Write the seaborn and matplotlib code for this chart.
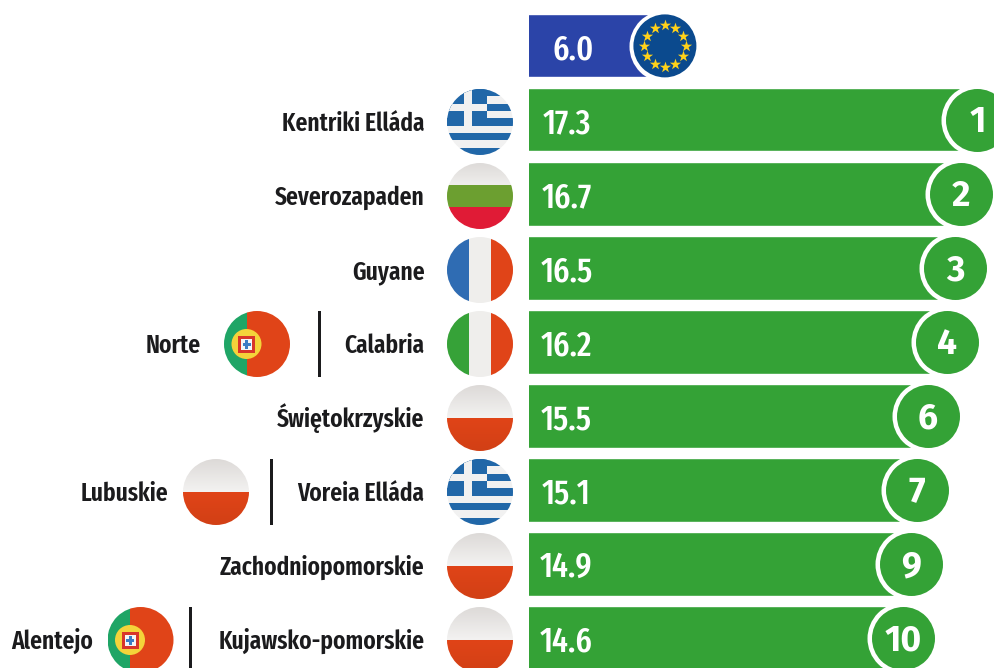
import numpy as np
import pandas as pd
import matplotlib
matplotlib.use("Agg")
import matplotlib.pyplot as plt
import seaborn as sns
from matplotlib.patches import Circle, Rectangle

# ---- data ----
rows = ["EU", "r1", "r2", "r3", "r4", "r6", "r7", "r9", "r10"]
values = [6.0, 17.3, 16.7, 16.5, 16.2, 15.5, 15.1, 14.9, 14.6]
value_labels = ["6.0", "17.3", "16.7", "16.5", "16.2", "15.5", "15.1", "14.9", "14.6"]
ranks = ["", "1", "2", "3", "4", "6", "7", "9", "10"]
regions = ["", "Kentriki Elláda", "Severozapaden", "Guyane", "Calabria",
           "Świętokrzyskie", "Voreia Elláda", "Zachodniopomorskie", "Kujawsko-pomorskie"]
flags = ["", "gr", "bg", "fr", "it", "pl", "gr", "pl", "pl"]
second_regions = {4: ("Norte", "pt", 257, 201, 319.5),
                  6: ("Lubuskie", "pl", 216, 168, 271.5),
                  8: ("Alentejo", "pt", 140.5, 93, 190.5)}

GREEN = "#34A236"
BLUE = "#2B44A8"
INK = "#1b1b1d"
W, H = 995, 668
FONT = ["Fira Sans Extra Condensed", "DejaVu Sans"]
FONT_RANK = ["Fira Sans", "DejaVu Sans"]

sns.set_theme(style="white")
plt.rcParams["font.family"] = FONT

fig = plt.figure(figsize=(W / 100, H / 100), dpi=100, facecolor="white")

# main axes: bars, clipped at the reference's visible start
x0, ppu, step, y0 = 499.0, 27.65, 74.0, 45.9
ax = fig.add_axes([529 / W, 0, (W - 529) / W, 1])
df = pd.DataFrame({"row": rows, "value": values})
sns.barplot(data=df, y="row", x="value", hue="row", palette=[BLUE] + [GREEN] * 8,
            legend=False, width=63.2 / step, ax=ax, saturation=1, orient="h")
ax.set_xlim((529 - x0) / ppu, (W - x0) / ppu)
ax.set_ylim((H - y0) / step, -y0 / step)
ax.axis("off")
ypos = np.arange(len(rows))
pt = 72 / 100
ax.scatter(values, ypos, s=(72 * pt) ** 2, color="white", zorder=3, linewidths=0)
ax.scatter(values[1:], ypos[1:], s=(63 * pt) ** 2, color=GREEN, zorder=4, linewidths=0)
for i, (v, r, lab) in enumerate(zip(values, ranks, value_labels)):
    ax.text(v, i + 12.5 / step, r, color="white", fontsize=25.5, fontweight="bold",
            ha="center", va="baseline", zorder=5, family=FONT_RANK)
    xpx = 573 if i == 0 else 566.5
    ax.text((xpx - x0) / ppu, i + 13.3 / step, lab, color="white", fontsize=25,
            fontweight="medium", ha="center", va="baseline", zorder=5)

# overlay in pixel coordinates for flags, labels, dividers
ov = fig.add_axes([0, 0, 1, 1], facecolor="none")
ov.set_xlim(0, W)
ov.set_ylim(H, 0)
ov.axis("off")
R = 33.0


def grad(x1, x2, y1, y2, c1, c2, clip):
    a = np.array(matplotlib.colors.to_rgb(c1))
    b = np.array(matplotlib.colors.to_rgb(c2))
    t = np.linspace(0, 1, 40)[:, None, None]
    img = a[None, None, :] * (1 - t) + b[None, None, :] * t
    im = ov.imshow(img, extent=(x1, x2, y2, y1), aspect="auto", zorder=2, interpolation="bilinear")
    im.set_clip_path(clip)


def rect(x, y, w, h, c, clip, z=2):
    p = Rectangle((x, y), w, h, fc=c, ec="none", zorder=z)
    ov.add_patch(p)
    p.set_clip_path(clip)


def flag(kind, cx, cy):
    clip = Circle((cx, cy), R, transform=ov.transData, fc="none", ec="none")
    ov.add_patch(clip)
    L, T, S = cx - R, cy - R, 2 * R
    if kind == "gr":
        b = "#2167A8"
        rect(L, T, S, S, "#F1F1F1", clip)
        sh = S / 9
        for k in range(0, 9, 2):
            rect(L, T + k * sh, S, sh, b, clip)
        rect(L, T, 40, 5 * sh, b, clip, 3)
        rect(L + 16.5, T, 8.5, 5 * sh, "#F1F1F1", clip, 4)
        rect(L, T + 2 * sh, 40, sh, "#F1F1F1", clip, 4)
    elif kind == "bg":
        grad(L, L + S, T, T + S / 3, "#DEDBD9", "#EFEEEC", clip)
        rect(L, T + S / 3, S, S / 3, "#6C9F30", clip)
        rect(L, T + 2 * S / 3, S, S / 3, "#E01B36", clip)
    elif kind == "fr":
        rect(L, T, S, S, "#EFEEEC", clip)
        rect(L, T, S / 3, S, "#2F6CB3", clip)
        rect(L + 2 * S / 3, T, S / 3, S, "#E04418", clip)
    elif kind == "it":
        rect(L, T, S, S, "#EFEEEC", clip)
        rect(L, T, S / 3, S, "#36A238", clip)
        rect(L + 2 * S / 3, T, S / 3, S, "#E04418", clip)
    elif kind == "pl":
        grad(L, L + S, T, cy, "#DDDAD8", "#F3F2F1", clip)
        grad(L, L + S, cy, T + S, "#E04418", "#D24015", clip)
    elif kind == "pt":
        split = cx - 10.5
        rect(L, T, split - L, S, "#1FA566", clip)
        rect(split, T, L + S - split, S, "#E04418", clip)
        ov.add_patch(Circle((split, cy), 15, fc="#F4D33A", ec="none", zorder=4))
        ov.add_patch(Rectangle((split - 8.5, cy - 8.5), 17, 17, fc="#D8352A", ec="none", zorder=5))
        ov.add_patch(Rectangle((split - 5.5, cy - 5.5), 11, 11.5, fc="#F5F5F5", ec="none", zorder=6))
        ov.add_patch(Rectangle((split - 1.5, cy - 4), 3, 8.5, fc="#3C7CC4", ec="none", zorder=7))
        ov.add_patch(Rectangle((split - 4, cy - 1.5), 8, 3, fc="#3C7CC4", ec="none", zorder=7))


LABEL_SIZE = 18.3
flag_y0 = 122.0
for i in range(1, len(rows)):
    cy = flag_y0 + (i - 1) * step
    flag(flags[i], 480, cy)
    ov.text(424.5, cy + 9, regions[i], ha="right", va="baseline", fontsize=LABEL_SIZE,
            fontweight="semibold", color=INK)
    if i in second_regions:
        name, kind, cx, tx, dx = second_regions[i]
        flag(kind, cx, cy)
        ov.text(tx, cy + 9, name, ha="right", va="baseline", fontsize=LABEL_SIZE,
                fontweight="semibold", color=INK)
        ov.add_patch(Rectangle((dx - 1.75, cy - 33.5), 3.5, 66.5, fc=INK, ec="none", zorder=3))

# EU roundel
ecx, ecy = x0 + values[0] * ppu, y0
ov.add_patch(Circle((ecx, ecy), 31.5, fc="#0B4A8E", ec="none", zorder=4))
ang = np.deg2rad(np.arange(0, 360, 30))
ov.scatter(ecx + 20.7 * np.cos(ang), ecy + 20.7 * np.sin(ang), marker="*", s=72,
           color="#FFD21A", linewidths=0, zorder=5)
ov.set_xlim(0, W)
ov.set_ylim(H, 0)

fig.savefig("out.png", dpi=100, facecolor="white")
